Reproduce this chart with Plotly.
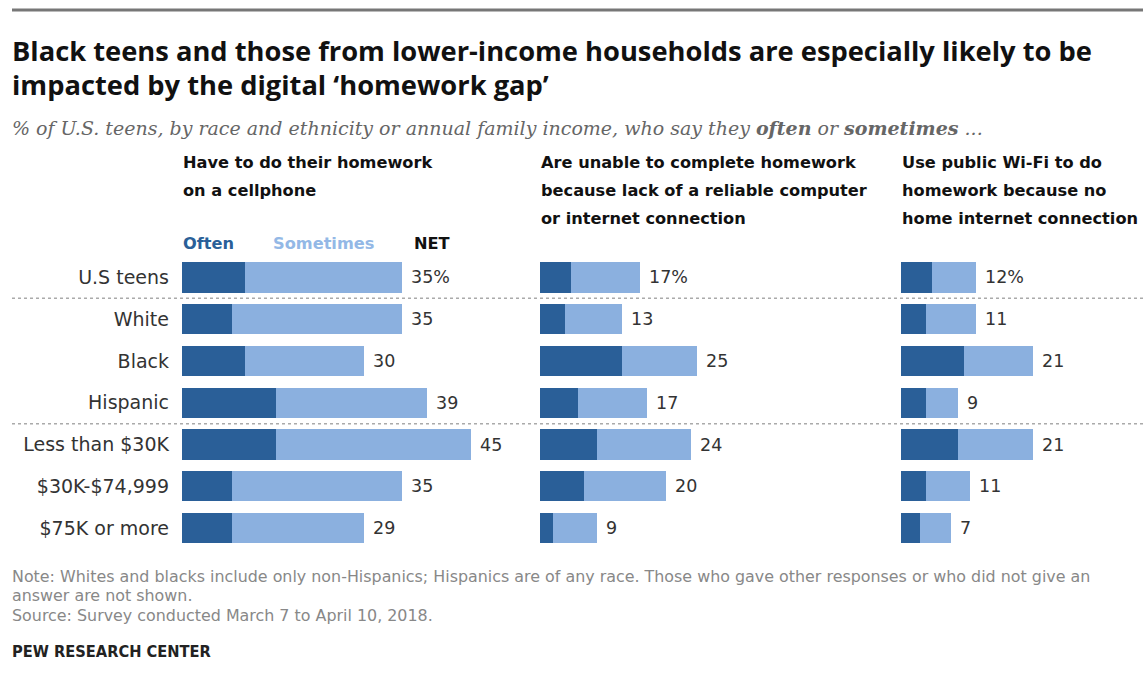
import plotly.graph_objects as go

categories = ["U.S teens", "White", "Black", "Hispanic",
              "Less than $30K", "$30K-$74,999", "$75K or more"]

cell_often = [10, 8, 10, 15, 15, 8, 8]
cell_sometimes = [25, 27, 19, 24, 31, 27, 21]
cell_net = ["35%", "35", "30", "39", "45", "35", "29"]

comp_often = [5, 4, 13, 6, 9, 7, 2]
comp_sometimes = [11, 9, 12, 11, 15, 13, 7]
comp_net = ["17%", "13", "25", "17", "24", "20", "9"]

wifi_often = [5, 4, 10, 4, 9, 4, 3]
wifi_sometimes = [7, 8, 11, 5, 12, 7, 5]
wifi_net = ["12%", "11", "21", "9", "21", "11", "7"]

panel_titles = [
    ["Have to do their homework", "on a cellphone"],
    ["Are unable to complete homework", "because lack of a reliable computer", "or internet connection"],
    ["Use public Wi-Fi to do", "homework because no", "home internet connection"],
]

DARK = "#2a5f98"
LIGHT = "#8bb0df"
W, H = 1143, 677
PX = 6.28
starts = [182, 540, 901]
ranges = [55, 55, (W - 901) / PX]

panels = [(cell_often, cell_sometimes, cell_net),
          (comp_often, comp_sometimes, comp_net),
          (wifi_often, wifi_sometimes, wifi_net)]

SANS = "DejaVu Sans, sans-serif"

fig = go.Figure()
axnames = ["x", "x2", "x3"]
for i, (often, some, net) in enumerate(panels):
    fig.add_trace(go.Bar(y=categories, x=often, orientation="h", xaxis=axnames[i], yaxis="y",
                         marker=dict(color=DARK, line=dict(width=0)), width=0.72, showlegend=False,
                         hoverinfo="skip"))
    fig.add_trace(go.Bar(y=categories, x=some, orientation="h", xaxis=axnames[i], yaxis="y",
                         marker=dict(color=LIGHT, line=dict(width=0)), width=0.72, showlegend=False,
                         hoverinfo="skip"))

annotations = []
for i, (often, some, net) in enumerate(panels):
    for c, o, s, n in zip(categories, often, some, net):
        annotations.append(dict(x=o + s, y=c, xref=axnames[i], yref="y", text=n, showarrow=False,
                                xanchor="left", yanchor="middle", xshift=7,
                                font=dict(family=SANS, size=17.5, color="#333")))

def paper_y(py):
    return 1 - py / H

def add_text(text, px, py, size, color="#000", family=SANS, xanchor="left"):
    annotations.append(dict(x=px / W, y=paper_y(py), xref="paper", yref="paper", text=text,
                            showarrow=False, xanchor=xanchor, yanchor="middle",
                            font=dict(family=family, size=size, color=color)))

TITLE_FONT = "Open Sans, sans-serif"
add_text("<b>Black teens and those from lower-income households are especially likely to be</b>", 10, 50, 27.3, "#111", TITLE_FONT)
add_text("<b>impacted by the digital ‘homework gap’</b>", 10, 84, 27.3, "#111", TITLE_FONT)
add_text("<i>% of U.S. teens, by race and ethnicity or annual family income, who say they <b>often</b> or <b>sometimes</b> ...</i>",
         10, 128, 19, "#666", "DejaVu Serif, serif")

HEAD = "DejaVu Sans, sans-serif"
for i, lines in enumerate(panel_titles):
    for j, line in enumerate(lines):
        add_text("<b>" + line + "</b>", starts[i] - 1, 163 + 27.5 * j, 16.2, "#111", HEAD)

add_text("<b>Often</b>", 181, 243, 16.2, DARK, HEAD)
add_text("<b>Sometimes</b>", 271, 243, 16.2, "#93b8e6", HEAD)
add_text("<b>NET</b>", 412, 243, 16.2, "#111", HEAD)

NOTE_FONT = "DejaVu Sans, sans-serif"
add_text("Note: Whites and blacks include only non-Hispanics; Hispanics are of any race. Those who gave other responses or who did not give an",
         10, 576, 15.9, "#888", NOTE_FONT)
add_text("answer are not shown.", 10, 595, 15.9, "#888", NOTE_FONT)
add_text("Source: Survey conducted March 7 to April 10, 2018.", 10, 615, 15.9, "#888", NOTE_FONT)
add_text("<b>PEW RESEARCH CENTER</b>", 10, 651, 16.3, "#222", "DejaVu Sans Condensed, DejaVu Sans, sans-serif")

ytop, ybot = 256.6, 548.9
layout = dict(
    width=W, height=H, margin=dict(l=0, r=0, t=0, b=0), autosize=False,
    paper_bgcolor="white", plot_bgcolor="white", barmode="stack", bargap=0.28,
    yaxis=dict(domain=[paper_y(ybot), paper_y(ytop)], type="category", categoryarray=categories,
               range=[6.5, -0.5], showgrid=False, zeroline=False, showline=False, ticks="",
               ticklabelstandoff=12, automargin=False,
               tickfont=dict(family=SANS, size=19, color="#333")),
    annotations=annotations,
    shapes=[
        dict(type="line", xref="paper", yref="paper", x0=12 / W, x1=1, y0=paper_y(10), y1=paper_y(10),
             line=dict(color="#777", width=3)),
        dict(type="line", xref="paper", yref="y", x0=12 / W, x1=1, y0=0.5, y1=0.5,
             line=dict(color="#aaa", width=1.5, dash="dot")),
        dict(type="line", xref="paper", yref="y", x0=12 / W, x1=1, y0=3.5, y1=3.5,
             line=dict(color="#aaa", width=1.5, dash="dot")),
    ],
)
for i, name in enumerate(["xaxis", "xaxis2", "xaxis3"]):
    layout[name] = dict(domain=[starts[i] / W, min(1.0, (starts[i] + PX * ranges[i]) / W)],
                        range=[0, ranges[i]], anchor="y", visible=False, fixedrange=True)
fig.update_layout(**layout)
fig.write_html("out.html")
